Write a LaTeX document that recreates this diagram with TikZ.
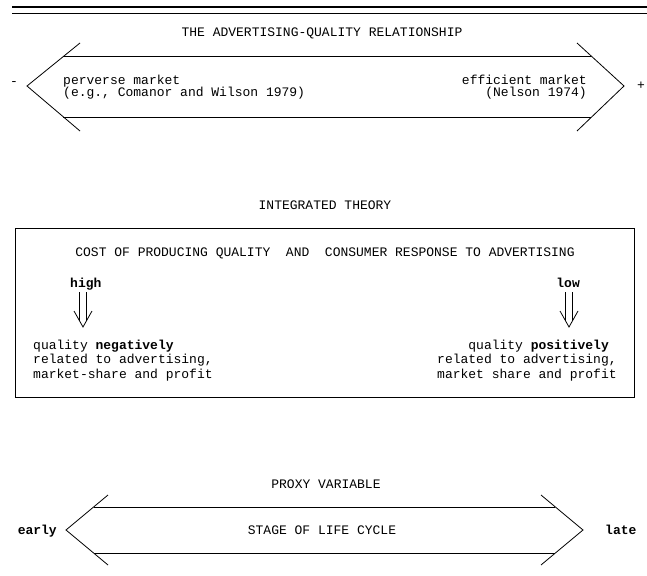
\documentclass[tikz,border=0pt]{standalone}
\usepackage{fontspec}
\setmonofont{Liberation Mono}
\begin{document}
\begin{tikzpicture}[x=1pt, y=-1pt,
    txt/.style={font=\ttfamily\fontsize{13}{14.5}\selectfont, inner sep=0pt},
    tight/.style={font=\ttfamily\fontsize{13}{13}\selectfont},
    frame/.style={line width=0.8pt},
    dblarrow/.pic={
        \draw[line width=0.8pt] (-3.5,0) -- (-3.5,29) (3.5,0) -- (3.5,29);
        \draw[line width=0.8pt] (-9,19) -- (0,35) -- (9,19);
    }
]
\useasboundingbox (0,0) rectangle (647,575);

% Double rule
\draw[line width=2pt] (12,7) -- (647,7);
\draw[line width=1.2pt] (12,13.5) -- (647,13.5);

% Top arrow
\node[txt, anchor=base] (title) at (322,37) {THE ADVERTISING-QUALITY RELATIONSHIP};
\draw[frame] (80,43) -- (27,86) -- (80,131);
\draw[frame] (577,43) -- (624,86) -- (577,131);
\draw[frame] (63,56) -- (591,56);
\draw[frame] (63,117) -- (591,117);
\node[txt, tight, anchor=base west, align=left] (perverse) at (63,97)
    {perverse market\\(e.g., Comanor and Wilson 1979)};
\node[txt, tight, anchor=base east, align=right] (efficient) at (587,97)
    {efficient market\\(Nelson 1974)};
\node[txt] (minus) at (14,84) {-};
\node[txt] (plus) at (641,86) {+};

% Integrated theory box
\node[txt, anchor=base] (theory) at (325,209) {INTEGRATED THEORY};
\draw[frame] (15,228) rectangle (634,397);
\node[txt, anchor=base] (cost) at (325,256)
    {COST OF PRODUCING QUALITY\ \ AND\ \ CONSUMER RESPONSE TO ADVERTISING};
\node[txt, anchor=base west] (high) at (70,287) {\textbf{high}};
\node[txt, anchor=base east] (low) at (580,287) {\textbf{low}};
\pic at (83,292) {dblarrow};
\pic at (569,292) {dblarrow};
\node[txt, anchor=base west, align=left] (neg) at (33,378)
    {quality \textbf{negatively}\\related to advertising,\\market-share and profit};
\node[txt, anchor=base west, align=left] (pos) at (437,378)
    {\phantom{xxxx}quality \textbf{positively}\\related to advertising,\\market share and profit};

% Proxy variable
\node[txt, anchor=base] (proxy) at (326,488) {PROXY VARIABLE};
\draw[frame] (108,495) -- (66,530) -- (108,565);
\draw[frame] (541,495) -- (583,530) -- (541,565);
\draw[frame] (94,507) -- (555,507);
\draw[frame] (94,553) -- (555,553);
\node[txt, anchor=base] (stage) at (322,534) {STAGE OF LIFE CYCLE};
\node[txt, anchor=base east] (early) at (57,534) {\textbf{early}};
\node[txt, anchor=base west] (late) at (605,534) {\textbf{late}};
\end{tikzpicture}
\end{document}
